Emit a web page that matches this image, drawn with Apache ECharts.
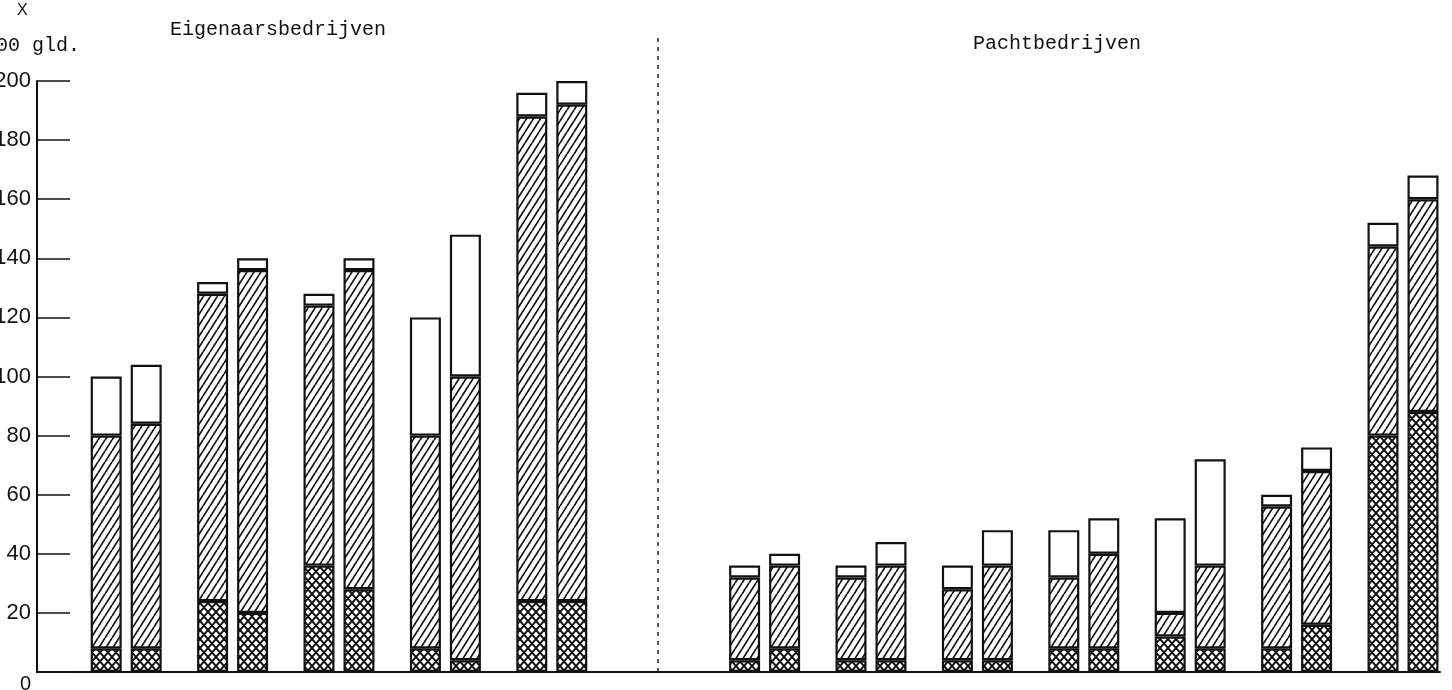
<!DOCTYPE html>
<html>
<head>
<meta charset="utf-8">
<script src="https://cdn.jsdelivr.net/npm/echarts@6/dist/echarts.min.js"></script>
<style>
  html, body { margin: 0; padding: 0; background: #fff; }
  #chart { width: 1452px; height: 690px; }
</style>
</head>
<body>
<div id="chart"></div>
<script>
// ---- data (x 1000 gld.) ----
const categories = ['E1', 'E2', 'E3', 'E4', 'E5', 'sep', 'P1', 'P2', 'P3', 'P4', 'P5', 'P6', 'P7'];
// left bar of each pair
const crossA    = [8, 24, 36, 8, 24, null, 4, 4, 4, 8, 12, 8, 80];
const hatchTopA = [80, 128, 124, 80, 188, null, 32, 32, 28, 32, 20, 56, 144];
const totalA    = [100, 132, 128, 120, 196, null, 36, 36, 36, 48, 52, 60, 152];
// right bar of each pair
const crossB    = [8, 20, 28, 4, 24, null, 8, 4, 4, 8, 8, 16, 88];
const hatchTopB = [84, 136, 136, 100, 192, null, 36, 36, 36, 40, 36, 68, 160];
const totalB    = [104, 140, 140, 148, 200, null, 40, 44, 48, 52, 72, 76, 168];
const yMin = 0, yMax = 200, yStep = 20;
const groupTitles = ['Eigenaarsbedrijven', 'Pachtbedrijven'];
const unitTop = 'X';
const unitLabel = '1000 gld.';

// ---- layout ----
const axisLeft = 37, axisTop = 81, axisBottom = 18, axisRight = 12;
const barsLeft = 73, barsWidth = 13 * 106.4, barsTop = 33;
const barsYMax = yMax * (690 - axisBottom - barsTop) / (690 - axisBottom - axisTop);

function diff(a, b) { return a.map((v, i) => (v == null ? null : v - b[i])); }

function makeHatch() {
  const w = 7, h = 11;
  const c = document.createElement('canvas');
  c.width = w; c.height = h;
  const g = c.getContext('2d');
  g.fillStyle = '#fff'; g.fillRect(0, 0, w, h);
  g.strokeStyle = '#111'; g.lineWidth = 1.7;
  g.beginPath();
  for (let k = -1; k <= 1; k++) {
    g.moveTo(k * w, h); g.lineTo(k * w + w, 0);
  }
  g.stroke();
  return c;
}
function makeCross() {
  const w = 8, h = 9;
  const c = document.createElement('canvas');
  c.width = w; c.height = h;
  const g = c.getContext('2d');
  g.fillStyle = '#fff'; g.fillRect(0, 0, w, h);
  g.strokeStyle = '#111'; g.lineWidth = 1.9;
  g.beginPath();
  for (let k = -1; k <= 1; k++) {
    g.moveTo(k * w, h); g.lineTo(k * w + w, 0);
    g.moveTo(k * w, 0); g.lineTo(k * w + w, h);
  }
  g.stroke();
  return c;
}
const hatchFill = { image: makeHatch(), repeat: 'repeat' };
const crossFill = { image: makeCross(), repeat: 'repeat' };

const border = { borderColor: '#111', borderWidth: 2.2 };
const barW = 31;

function seg(name, stack, data, fill) {
  return {
    name: name, type: 'bar', stack: stack, xAxisIndex: 1, yAxisIndex: 1,
    barWidth: barW, barGap: '29%', data: data, silent: true,
    itemStyle: Object.assign({ color: fill }, border)
  };
}

const series = [
  seg('A1', 'A', crossA, crossFill),
  seg('A2', 'A', diff(hatchTopA, crossA), hatchFill),
  seg('A3', 'A', diff(totalA, hatchTopA), '#fff'),
  seg('B1', 'B', crossB, crossFill),
  seg('B2', 'B', diff(hatchTopB, crossB), hatchFill),
  seg('B3', 'B', diff(totalB, hatchTopB), '#fff'),
  {
    name: 'separator', type: 'line', xAxisIndex: 1, yAxisIndex: 1, data: [], silent: true,
    markLine: {
      silent: true, symbol: 'none', label: { show: false },
      lineStyle: { color: '#222', type: [4, 5], width: 1.5 },
      data: [{ xAxis: 'sep' }]
    }
  }
];

const chart = echarts.init(document.getElementById('chart'));
chart.setOption({
  backgroundColor: '#fff',
  animation: false,
  grid: [
    { left: axisLeft, right: axisRight, top: axisTop, bottom: axisBottom, outerBoundsMode: 'none', containLabel: false },
    { left: barsLeft, width: barsWidth, top: barsTop, bottom: axisBottom, outerBoundsMode: 'none', containLabel: false }
  ],
  xAxis: [
    { type: 'value', gridIndex: 0, min: 0, max: 1,
      axisLine: { show: true, lineStyle: { color: '#111', width: 2 } },
      axisTick: { show: false }, axisLabel: { show: false }, splitLine: { show: false } },
    { type: 'category', gridIndex: 1, data: categories, show: false }
  ],
  yAxis: [
    { type: 'value', gridIndex: 0, min: yMin, max: yMax, interval: yStep,
      axisLine: { show: true, lineStyle: { color: '#111', width: 2 } },
      axisTick: { show: true, inside: true, length: 33, lineStyle: { color: '#111', width: 1.6 } },
      splitLine: { show: false },
      axisLabel: {
        color: '#111', fontFamily: '"Liberation Sans Narrow", "Liberation Sans", sans-serif', fontSize: 22, margin: 6,
        formatter: function (v) { return v === 0 ? '{z|0}' : String(v); },
        rich: { z: { padding: [24, 0, 0, 0], fontSize: 20, color: '#111' } }
      } },
    { type: 'value', gridIndex: 1, min: yMin, max: barsYMax, show: false }
  ],
  graphic: [
    { type: 'text', x: 170, y: 30, style: { text: groupTitles[0], font: '20px "Liberation Mono", monospace', fill: '#111', verticalAlign: 'middle' } },
    { type: 'text', x: 973, y: 44, style: { text: groupTitles[1], font: '20px "Liberation Mono", monospace', fill: '#111', verticalAlign: 'middle' } },
    { type: 'text', x: 17, y: 11, style: { text: unitTop, font: '16px "Liberation Sans", sans-serif', fill: '#111', verticalAlign: 'middle' } },
    { type: 'text', x: -28, y: 46, style: { text: unitLabel, font: '20px "Liberation Mono", monospace', fill: '#111', verticalAlign: 'middle' } }
  ],
  series: series
});
</script>
</body>
</html>
